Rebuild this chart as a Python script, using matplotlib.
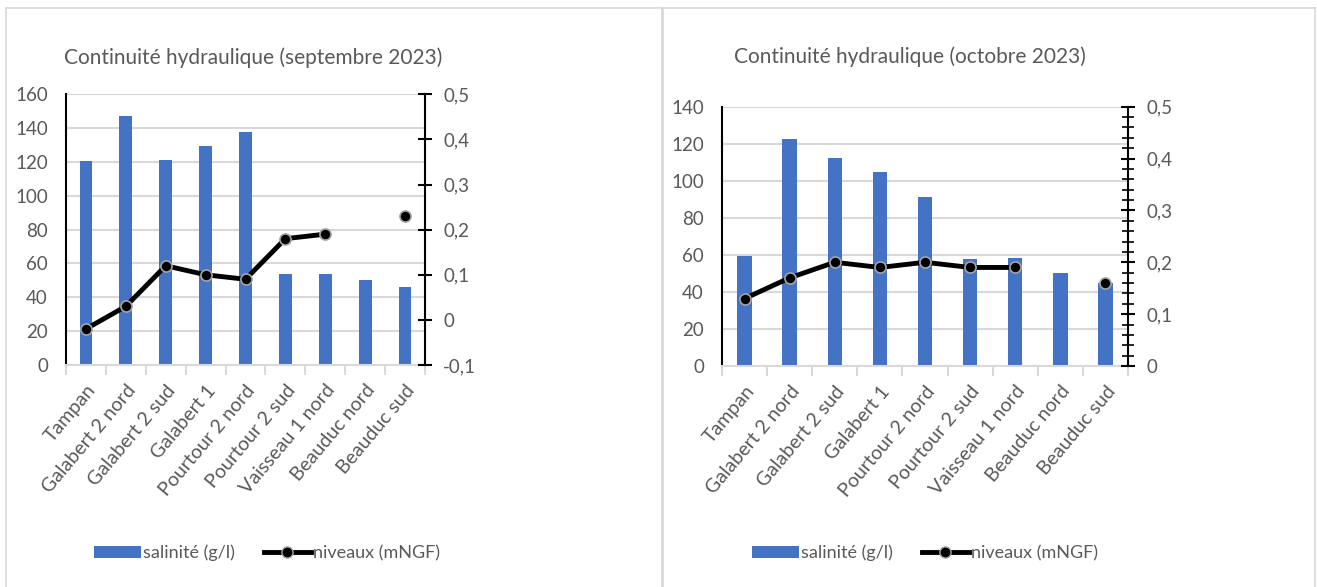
import numpy as np
import matplotlib.pyplot as plt
from matplotlib.lines import Line2D
from matplotlib.patches import Patch
from matplotlib.ticker import FuncFormatter, MultipleLocator

plt.rcParams['font.family'] = ['Lato', 'DejaVu Sans']

stations = ["Tampan", "Galabert 2 nord", "Galabert 2 sud", "Galabert 1",
            "Pourtour 2 nord", "Pourtour 2 sud", "Vaisseau 1 nord",
            "Beauduc nord", "Beauduc sud"]

sal_sep = [120.5, 147, 121, 129.5, 138, 53.5, 53.5, 50.5, 46]
niv_sep = [-0.02, 0.03, 0.12, 0.10, 0.09, 0.18, 0.19, np.nan, 0.23]

sal_oct = [59.5, 122.5, 112.5, 105, 91.5, 58, 58.5, 50, 45]
niv_oct = [0.13, 0.17, 0.20, 0.19, 0.20, 0.19, 0.19, np.nan, 0.16]

BLUE = "#4472C4"
GREY_TXT = "#595959"
GRID = "#d9d9d9"
W, H = 1317, 587


def fmt_comma(v, pos):
    if abs(v) < 1e-9:
        return "0"
    return f"{v:.1f}".replace(".", ",")


def box(x0, x1, y_top, y_bot):
    return [x0 / W, 1 - y_bot / H, (x1 - x0) / W, (y_bot - y_top) / H]


def draw_chart(fig, rect, sal, niv, ymax, ystep, rmin, rmax, rminor, title, title_xy, legend_xy):
    ax = fig.add_axes(rect)
    x = np.arange(len(stations))
    ax.bar(x, sal, width=0.32, color=BLUE, zorder=2)
    ax.set_xlim(-0.5, len(stations) - 0.5)
    ax.set_ylim(0, ymax)
    ax.set_yticks(np.arange(0, ymax + 1, ystep))
    ax.yaxis.grid(True, color=GRID, linewidth=1.5, zorder=0)
    ax.set_axisbelow(True)
    ax.set_xticks(x)
    ax.set_xticklabels(stations, rotation=50, ha="right", rotation_mode="anchor")
    ax.set_xticks(np.arange(-0.5, len(stations)), minor=True)
    ax.tick_params(axis="x", which="major", length=0, pad=12, labelsize=14, labelcolor=GREY_TXT)
    ax.tick_params(axis="x", which="minor", length=7, color=GRID, width=1.5)
    ax.tick_params(axis="y", length=0, pad=13, labelsize=13.5, labelcolor=GREY_TXT)
    for s in ["top", "right"]:
        ax.spines[s].set_visible(False)
    ax.spines["left"].set_color("black")
    ax.spines["left"].set_linewidth(1.5)
    ax.spines["bottom"].set_color(GRID)
    ax.spines["bottom"].set_linewidth(1.5)

    ax2 = ax.twinx()
    ax2.plot(x, niv, color="black", linewidth=3.5, marker="o", markersize=8,
             markerfacecolor="black", markeredgecolor="#a6a6a6", markeredgewidth=1.2, zorder=3)
    ax2.set_ylim(rmin, rmax)
    ax2.yaxis.set_major_locator(MultipleLocator(0.1))
    if rminor:
        ax2.yaxis.set_minor_locator(MultipleLocator(rminor))
    ax2.yaxis.set_major_formatter(FuncFormatter(fmt_comma))
    ax2.tick_params(axis="y", which="major", direction="inout", length=10, width=1.5,
                    pad=8, labelsize=13.5, labelcolor=GREY_TXT)
    ax2.tick_params(axis="y", which="minor", direction="inout", length=8, width=1.2)
    for s in ["top", "left", "bottom"]:
        ax2.spines[s].set_visible(False)
    ax2.spines["right"].set_color("black")
    ax2.spines["right"].set_linewidth(1.5)

    fig.text(title_xy[0] / W, 1 - title_xy[1] / H, title, ha="center", va="center",
             fontsize=15, color=GREY_TXT)
    handles = [Patch(facecolor=BLUE, label="salinité (g/l)"),
               Line2D([0], [0], color="black", linewidth=3.5, marker="o", markersize=8,
                      markerfacecolor="black", markeredgecolor="#a6a6a6",
                      label="niveaux (mNGF)")]
    fig.legend(handles=handles, loc="center", bbox_to_anchor=(legend_xy[0] / W, 1 - legend_xy[1] / H),
               ncol=2, frameon=False, fontsize=13, labelcolor=GREY_TXT,
               handlelength=2.6, handletextpad=0.1, columnspacing=1.6)
    return ax


fig = plt.figure(figsize=(W / 100, H / 100), dpi=100)

# panel borders
for xs, ys in [([6, 6], [587, 7.5]), ([6, 1315], [7.5, 7.5]),
               ([661.5, 661.5], [587, 7.5]), ([1315, 1315], [587, 7.5])]:
    fig.add_artist(Line2D([v / W for v in xs], [1 - v / H for v in ys],
                          color=GRID, linewidth=2 if xs[0] == 661.5 else 1.2))

draw_chart(fig, box(66, 425, 94.3, 365), sal_sep, niv_sep, 160, 20, -0.1, 0.5, None,
           "Continuité hydraulique (septembre 2023)", (253, 58), (267, 553))
draw_chart(fig, box(722, 1128, 106.7, 366), sal_oct, niv_oct, 140, 20, 0.0, 0.5, 0.02,
           "Continuité hydraulique (octobre 2023)", (910, 57), (925, 553))

fig.savefig("out.png", dpi=100, facecolor="white")
